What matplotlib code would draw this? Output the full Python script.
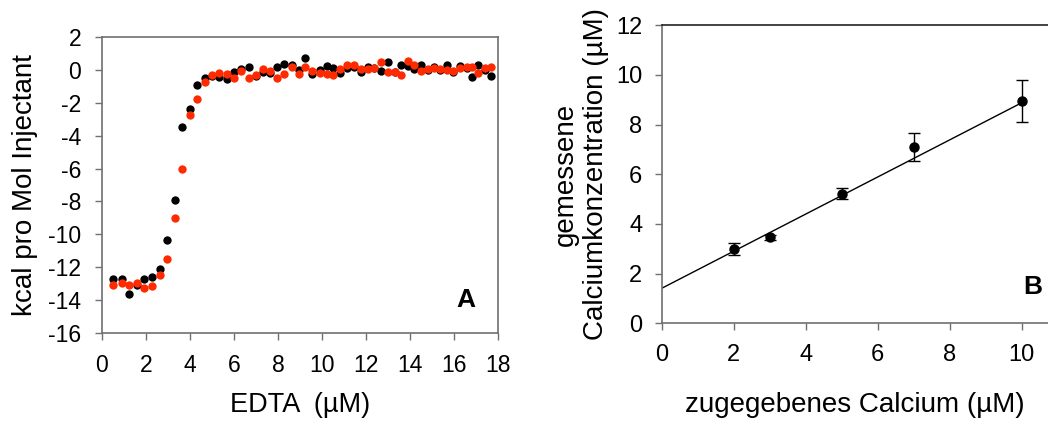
import numpy as np
import matplotlib
matplotlib.use('Agg')
import matplotlib.pyplot as plt

plt.rcParams['font.family'] = ['Liberation Sans', 'DejaVu Sans']
plt.rcParams['axes.unicode_minus'] = False

# Panel A: ITC titration, heat per injection vs EDTA
edta = [0.52, 0.89, 1.24, 1.58, 1.92, 2.29, 2.64, 2.95, 3.30, 3.65,
        3.98, 4.33, 4.67, 5.00, 5.33, 5.67, 6.00, 6.33, 6.67, 7.00,
        7.33, 7.64, 7.97, 8.29, 8.62, 8.94, 9.23, 9.56, 9.89, 10.21,
        10.52, 10.83, 11.14, 11.45, 11.76, 12.08, 12.38, 12.68, 13.00, 13.30,
        13.60, 13.90, 14.20, 14.50, 14.80, 15.08, 15.36, 15.67, 15.97, 16.27,
        16.57, 16.80, 17.10, 17.40, 17.68]
heat_black = [-12.7, -12.7, -13.6, -13.06, -12.7, -12.57, -12.1, -10.34, -7.9, -3.49,
              -2.39, -0.91, -0.5, -0.35, -0.46, -0.56, -0.11, 0.05, 0.17, -0.36,
              -0.1, -0.17, 0.19, 0.39, 0.33, -0.01, 0.74, -0.24, -0.01, 0.25,
              0.13, -0.17, 0.09, 0.19, -0.11, 0.15, 0.13, -0.05, 0.46, -0.11,
              0.33, 0.25, 0.05, 0.33, -0.01, 0.19, -0.01, 0.33, -0.11, 0.25,
              0.09, -0.46, 0.31, -0.01, -0.38]
heat_red = [-13.08, -12.98, -13.08, -12.98, -13.28, -13.12, -12.45, -11.52, -8.98, -6.05,
            -2.74, -1.76, -0.76, -0.28, -0.16, -0.22, -0.52, -0.09, -0.48, -0.28,
            0.05, -0.07, -0.48, -0.22, 0.19, -0.22, 0.19, -0.05, -0.17, -0.22,
            -0.32, 0.03, 0.33, 0.33, 0.03, 0.03, 0.13, 0.46, -0.11, -0.11,
            -0.32, 0.54, 0.33, -0.05, 0.05, 0.09, 0.03, -0.01, -0.05, 0.13,
            0.19, 0.19, -0.17, 0.09, 0.19]

# Panel B: calibration
ca_added = [2, 3, 5, 7, 10]
ca_measured = [2.98, 3.46, 5.22, 7.10, 8.95]
ca_err = [0.24, 0.10, 0.23, 0.55, 0.83]
fit_slope = 0.747
fit_intercept = 1.41

fig = plt.figure(figsize=(10.48, 4.21), dpi=100)
grey = '#707070'

# ---- Panel A ----
ax0 = fig.add_axes([0.0973, 0.209, 0.3779, 0.703])
ax0.scatter(edta, heat_black, s=36, color='black', zorder=3, linewidths=0)
ax0.scatter(edta, heat_red, s=36, color='#ff2a00', zorder=4, linewidths=0)
ax0.set_xlim(0, 18)
ax0.set_ylim(-16, 2)
ax0.set_xticks(range(0, 19, 2))
ax0.set_yticks(range(-16, 3, 2))
for sp in ax0.spines.values():
    sp.set_color(grey)
    sp.set_linewidth(1.2)
ax0.tick_params(direction='out', length=5, width=1, colors=grey,
                labelcolor='black', labelsize=16.5)
ax0.tick_params(axis='x', pad=10)
ax0.tick_params(axis='y', pad=10)
ax0.set_xlabel('EDTA  (\u00b5M)', fontsize=19.5)
ax0.set_ylabel('kcal pro Mol Injectant', fontsize=20)
ax0.xaxis.set_label_coords(0.5, -0.2)
ax0.yaxis.set_label_coords(-0.162, 0.5)
ax0.text(0.918, 0.111, 'A', transform=ax0.transAxes, fontsize=19,
         fontweight='bold', ha='center', va='center')

# ---- Panel B ----
ax1 = fig.add_axes([0.6314, 0.232, 0.3686, 0.708])
xfit = np.array([0, 10])
ax1.plot(xfit, np.polyval([fit_slope, fit_intercept], xfit), color='black', lw=1)
ax1.errorbar(ca_added, ca_measured, yerr=ca_err, fmt='o', color='black',
             ms=6.5, capsize=4.5, elinewidth=1, capthick=1, zorder=3)
ax1.set_xlim(0, 10.73)
ax1.set_ylim(0, 12)
ax1.set_xticks(range(0, 11, 2))
ax1.set_yticks(range(0, 13, 2))
ax1.spines['right'].set_visible(False)
ax1.spines['left'].set_color(grey)
ax1.spines['bottom'].set_color(grey)
ax1.spines['top'].set_color('#222222')
for sp in ax1.spines.values():
    sp.set_linewidth(1.2)
ax1.tick_params(direction='out', length=5, width=1, colors=grey,
                labelcolor='black', labelsize=17)
ax1.tick_params(axis='x', pad=10)
ax1.tick_params(axis='y', pad=9)
ax1.set_xlabel('zugegebenes Calcium (\u00b5M)', fontsize=20)
ax1.set_ylabel('gemessene\nCalciumkonzentration (\u00b5M)', fontsize=20,
               linespacing=1.2)
ax1.xaxis.set_label_coords(0.5, -0.232)
ax1.yaxis.set_label_coords(-0.137, 0.5)
ax1.text(0.961, 0.122, 'B', transform=ax1.transAxes, fontsize=19,
         fontweight='bold', ha='center', va='center')

fig.savefig('out.png', dpi=100)
